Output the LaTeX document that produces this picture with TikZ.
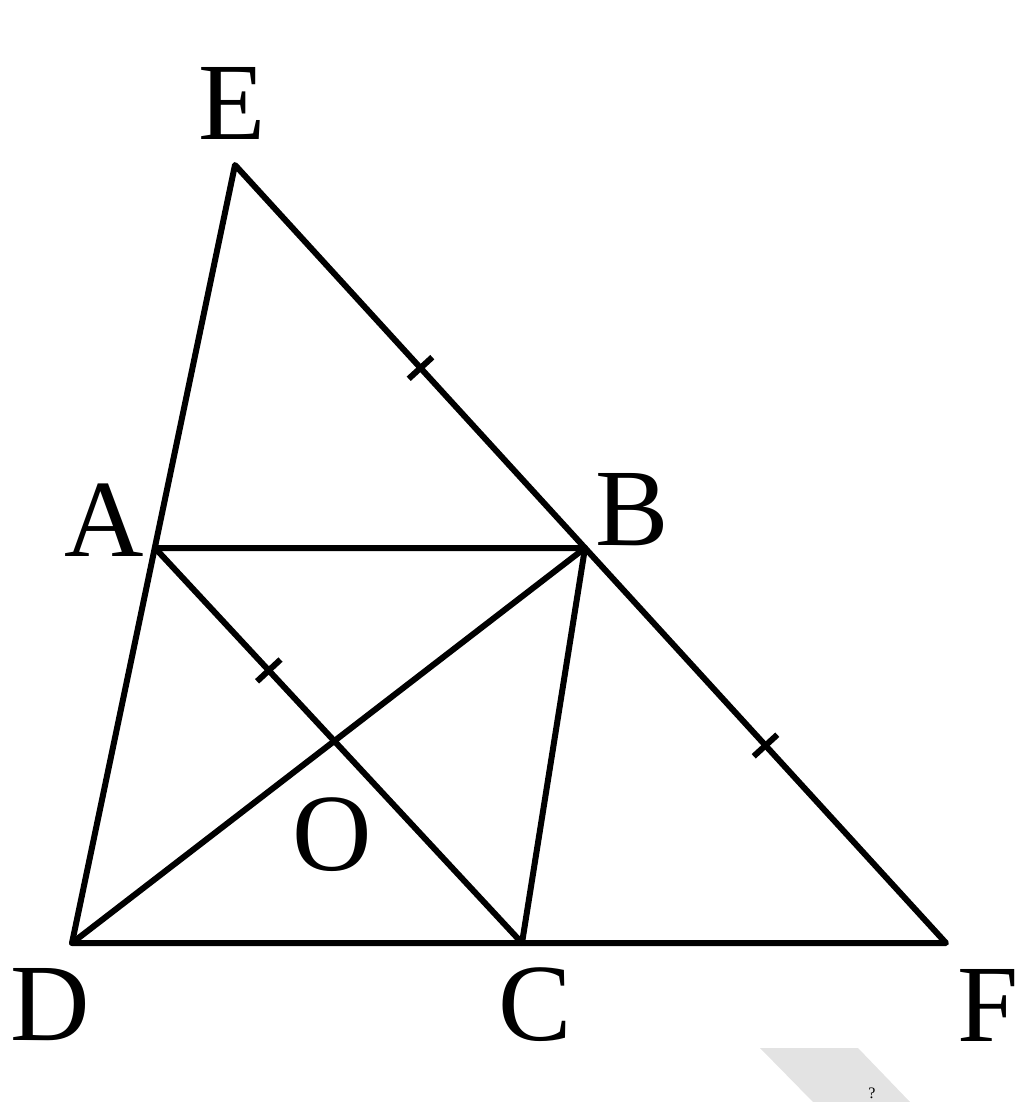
\documentclass[tikz,border=0pt]{standalone}
\usepackage{fontspec}
\setmainfont{Liberation Serif}
\usetikzlibrary{calc,intersections}
\begin{document}
\begin{tikzpicture}[x=1pt,y=-1pt,
  seg/.style={line width=6pt,line cap=round,line join=round},
  tick/.style={line width=6pt},
  lbl/.style={inner sep=0pt,font=\fontsize{110}{110}\selectfont}]
\useasboundingbox (0,0) rectangle (1024,1102);
% faint watermark
\fill[gray!22] (760,1048) -- (858,1048) -- (910,1102) -- (813,1102) -- cycle;
\node[inner sep=0pt,font=\fontsize{16}{16}\selectfont] (q) at (872,1093) {?};
% points
\coordinate (E) at (235,165);
\coordinate (A) at (155,548);
\coordinate (B) at (585,548);
\coordinate (D) at (72,943);
\coordinate (C) at (522,943);
\coordinate (F) at (946,943);
\path[name path=ac] (A) -- (C);
\path[name path=bd] (B) -- (D);
\path[name intersections={of=ac and bd,by=O}];
% lines
\draw[seg] (E) -- (F) -- (D) -- cycle;
\draw[seg] (A) -- (B) -- (C);
\draw[seg] (A) -- (C);
\draw[seg] (B) -- (D);
% tick marks
\path (E) -- (B) coordinate[pos=0.53] (t1);
\path (A) -- (C) coordinate[pos=0.31] (t2);
\path (B) -- (F) coordinate[pos=0.50] (t3);
\draw[tick] ($(t1)!16pt!90:(B)$) -- ($(t1)!16pt!-90:(B)$);
\draw[tick] ($(t2)!16pt!90:(C)$) -- ($(t2)!16pt!-90:(C)$);
\draw[tick] ($(t3)!16pt!90:(F)$) -- ($(t3)!16pt!-90:(F)$);
% labels
\node[lbl] (lE) at (232,103) {E};
\node[lbl] (lA) at (104,520) {A};
\node[lbl] (lB) at (632,510) {B};
\node[lbl] (lO) at (332,835) {O};
\node[lbl] (lD) at (50,1005) {D};
\node[lbl] (lC) at (535,1005) {C};
\node[lbl] (lF) at (988,1005) {F};
\end{tikzpicture}
\end{document}
